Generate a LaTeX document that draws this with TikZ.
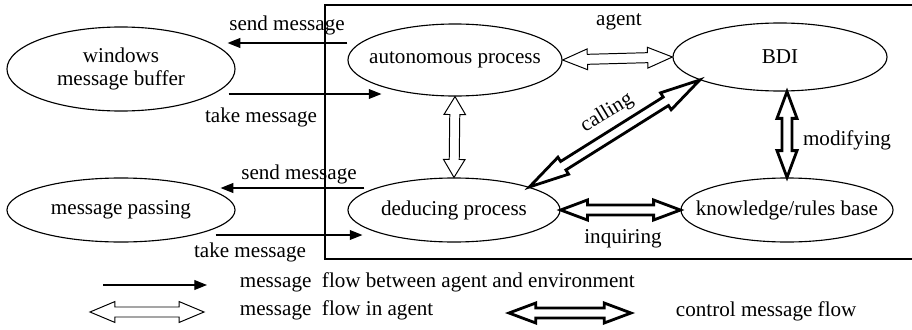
\documentclass[tikz,border=0pt]{standalone}
\usepackage{fontspec}
\setmainfont{Liberation Serif}
\usetikzlibrary{arrows.meta,shapes.geometric,positioning,calc}

\tikzset{
  proc/.style 2 args={ellipse, draw, line width=0.8pt, inner xsep=-12pt, inner ysep=0pt,
    minimum width=#1, minimum height=#2, align=center},
  flow/.style={-{Triangle[length=9pt,width=7pt]}, line width=0.8pt},
  % outlined two-headed arrow: head length, head half width, shaft half width, line width
  twin/.style n args={4}{draw, line width=#4, line join=miter, to path={
    -- ($(\tikztostart)!#1!(\tikztotarget)!#2!90:(\tikztotarget)$)
    -- ($(\tikztostart)!#1!(\tikztotarget)!#3!90:(\tikztotarget)$)
    -- ($(\tikztotarget)!#1!(\tikztostart)!#3!270:(\tikztostart)$)
    -- ($(\tikztotarget)!#1!(\tikztostart)!#2!270:(\tikztostart)$)
    -- (\tikztotarget)
    -- ($(\tikztotarget)!#1!(\tikztostart)!#2!90:(\tikztostart)$)
    -- ($(\tikztotarget)!#1!(\tikztostart)!#3!90:(\tikztostart)$)
    -- ($(\tikztostart)!#1!(\tikztotarget)!#3!270:(\tikztotarget)$)
    -- ($(\tikztostart)!#1!(\tikztotarget)!#2!270:(\tikztotarget)$)
    -- cycle}},
  hollow/.style={twin={0.62cm}{0.26cm}{0.125cm}{0.7pt}},
  heavy/.style={twin={0.67cm}{0.25cm}{0.125cm}{2pt}},
}

\begin{document}
\begin{tikzpicture}[x=0.025cm, y=-0.025cm, font=\fontsize{15pt}{17pt}\selectfont]
\useasboundingbox (0,0) rectangle (912,329);
% agent frame (open on the right)
\draw[line width=0.8pt] (912,5) -- (325,5) -- (325,259) -- (912,259);
% processes
\node[proc={5.7cm}{2.1cm}] (buffer) at (121,69) {windows\\message buffer};
\node[proc={5.7cm}{1.6cm}] (passing) at (121,210) {message passing};
\node[proc={5.35cm}{1.8cm}] (autop) at (455,60) {autonomous process};
\node[proc={5.3cm}{1.6cm}] (deduce) at (454,210) {deducing process};
\node[proc={5.35cm}{1.7cm}] (bdi) at (780,57) {BDI};
\node[proc={5.3cm}{1.6cm}] (kb) at (787,210) {knowledge/rules base};
% flow between agent and environment
\draw[flow] ($(autop.west)+(0,-17)$) -- ($(buffer.east)+(-8,-26)$);
\draw[flow] ($(buffer.east)+(-7,25)$) -- ($(autop.west)+(34,34)$);
\draw[flow] ($(deduce.west)+(17,-22)$) -- ($(passing.east)+(-15,-22)$);
\draw[flow] ($(passing.east)+(-20,25)$) -- ($(deduce.west)+(15,25)$);
\node (sendA) at (287,25) {send message};
\node (takeA) at (261,117) {take message};
\node (sendB) at (299,174) {send message};
\node (takeB) at (250,252) {take message};
% flow in agent
\draw[hollow] (autop.east) to (bdi.west);
\draw[twin={0.45cm}{0.27cm}{0.125cm}{0.7pt}] (autop.south) to (deduce.north);
\node (agent) at (619,22) {agent};
% control flow
\draw[twin={1cm}{0.25cm}{0.125cm}{2pt}] (deduce.north east) to (bdi.196);
\draw[heavy] (bdi.south -| kb.north) to (kb.north);
\draw[heavy] (deduce.east) to (kb.west);
\node[rotate=31] (calling) at (607,113) {calling};
\node (modifying) at (847,140) {modifying};
\node (inquiring) at (623,239) {inquiring};
% legend
\node[anchor=west] (keyA) at (235,282) {message\hspace{0.5em}flow between agent and environment};
\node[anchor=west] (keyB) at (235,310) {message\hspace{0.5em}flow in agent};
\node[anchor=west] (keyC) at (671,311) {control message flow};
\coordinate (a1) at (103,285);
\coordinate (a2) at (207,285);
\coordinate (b1) at (90,312);
\coordinate (b2) at (204,312);
\coordinate (c1) at (509,313);
\coordinate (c2) at (631,313);
\draw[flow] (a1) -- (a2);
\draw[hollow] (b1) to (b2);
\draw[heavy] (c1) to (c2);
\end{tikzpicture}
\end{document}
